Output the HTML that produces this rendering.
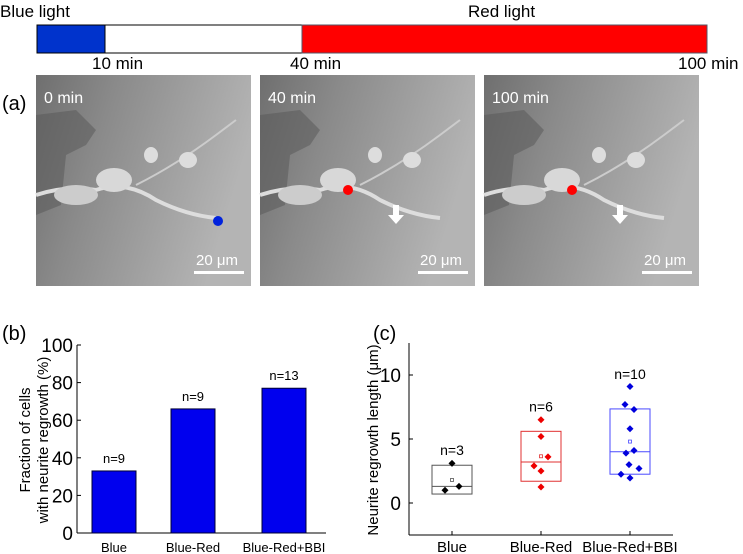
<!DOCTYPE html>
<html><head><meta charset="utf-8"><style>
html,body{margin:0;padding:0;background:#fff;}
svg{display:block;font-family:"Liberation Sans",sans-serif;}
</style></head><body>
<svg id="fig" width="743" height="554" viewBox="0 0 743 554">
<defs>
<linearGradient id="bg" x1="0" y1="0" x2="1" y2="0.3">
<stop offset="0" stop-color="#6f6f6f"/><stop offset="0.35" stop-color="#8a8a8a"/><stop offset="1" stop-color="#b4b4b4"/>
</linearGradient>
</defs>
<g>
<text x="0" y="17" font-size="17" font-family="Liberation Sans">Blue light</text>
<text x="468" y="17" font-size="17">Red light</text>
<rect x="37" y="25" width="68" height="28" fill="#0033cc" stroke="#000"/>
<rect x="105" y="25" width="197" height="28" fill="#fff" stroke="#000"/>
<rect x="302" y="25" width="405" height="28" fill="#ff0000" stroke="#556"/>
<text x="92" y="69" font-size="17">10 min</text>
<text x="290" y="69" font-size="17">40 min</text>
<text x="678" y="69" font-size="17">100 min</text>
</g>
<text x="2" y="110" font-size="20">(a)</text>
<g id="imgs"></g>
<text x="2" y="340" font-size="20">(b)</text>
<text x="373" y="340" font-size="20">(c)</text>
<g id="chartB"></g>
<g id="chartC"></g>
</svg>
<script>
const NS="http://www.w3.org/2000/svg";
function mk(p,t,a){const e=document.createElementNS(NS,t);for(const k in a)e.setAttribute(k,a[k]);p.appendChild(e);return e;}
// micrographs
const panels=[{x:36,lab:"0 min",dot:"#0022dd",arrow:false},{x:260,lab:"40 min",dot:"#ff0000",arrow:true},{x:484,lab:"100 min",dot:"#ff0000",arrow:true}];
const imgs=document.getElementById('imgs');
panels.forEach((p,i)=>{
 const g=mk(imgs,'g',{transform:`translate(${p.x},75)`});
 
 
 mk(g,'rect',{x:0,y:0,width:215,height:211,fill:'url(#bg)'});
 mk(g,'path',{d:'M0 40 L40 35 L60 55 L50 70 L30 80 L25 130 L0 140 Z',fill:'#555',opacity:0.5});
 mk(g,'path',{d:'M0 120 Q30 110 60 115 Q90 105 120 125 Q150 140 180 143',stroke:'#ddd','stroke-width':4,fill:'none'});
 mk(g,'ellipse',{cx:40,cy:120,rx:22,ry:10,fill:'#ccc'});
 mk(g,'ellipse',{cx:78,cy:105,rx:18,ry:12,fill:'#d8d8d8'});
 mk(g,'path',{d:'M100 110 Q140 90 180 60 L200 45',stroke:'#ccc','stroke-width':2,fill:'none'});
 mk(g,'ellipse',{cx:115,cy:80,rx:7,ry:8,fill:'#ddd'});
 mk(g,'ellipse',{cx:152,cy:85,rx:9,ry:8,fill:'#ddd'});
 const dx=i==0?182:88, dy=i==0?146:115;
 mk(g,'circle',{cx:dx,cy:dy,r:5,fill:p.dot});
 if(p.arrow){mk(g,'path',{d:'M133 130 h6 v10 h5 l-8 9 l-8 -9 h5z',fill:'#fff'});}
 const t=mk(g,'text',{x:8,y:28,'font-size':16,fill:'#fff'});t.textContent=p.lab;
 const s=mk(g,'text',{x:160,y:190,'font-size':15,fill:'#fff'});s.textContent='20 μm';
 mk(g,'rect',{x:158,y:196,width:50,height:3,fill:'#fff'});
});
// chart b data
const catsB=["Blue","Blue-Red","Blue-Red+BBI"];
const valsB=[33,66,77];
const nB=["n=9","n=9","n=13"];
const ticksB=[0,20,40,60,80,100];
(function(){
 const g=document.getElementById('chartB');
 const x0=77,x1=326,yB=533,yT=345;
 const y=v=>yB-(v/100)*(yB-yT);
 const cx=[114,193,284],bw=44;
 mk(g,'line',{x1:x0,y1:yT,x2:x0,y2:yB,stroke:'#000'});
 mk(g,'line',{x1:x0,y1:yB,x2:x1,y2:yB,stroke:'#000'});
 ticksB.forEach(t=>{mk(g,'line',{x1:x0,y1:y(t),x2:x0+4,y2:y(t),stroke:'#000'});
  const e=mk(g,'text',{x:x0-4,y:y(t)+7,'font-size':19,'text-anchor':'end'});e.textContent=t;
  });
 valsB.forEach((v,i)=>{
  const r=mk(g,'rect',{x:cx[i]-bw/2,y:y(v),width:bw,height:yB-y(v),fill:'#0000ee',stroke:'#000033'});
  
  const n=mk(g,'text',{x:cx[i],y:y(v)-8,'font-size':13,'text-anchor':'middle'});n.textContent=nB[i];
  const c=mk(g,'text',{x:cx[i],y:552,'font-size':13,'text-anchor':'middle'});c.textContent=catsB[i];
  
 });
 const a=mk(g,'text',{transform:'translate(30,440) rotate(-90)','font-size':15,'text-anchor':'middle'});a.textContent='Fraction of cells';
 
 const b=mk(g,'text',{transform:'translate(48,440) rotate(-90)','font-size':15,'text-anchor':'middle'});b.textContent='with neurite regrowth (%)';
})();
// chart c data
const catsC=["Blue","Blue-Red","Blue-Red+BBI"];
const nC=["n=3","n=6","n=10"];
const ptsBlue=[3.1,1.0,1.3];
const ptsRed=[6.5,5.2,2.9,3.6,2.5,1.25];
const ptsBBI=[9.1,7.7,7.3,5.8,3.9,4.1,3.0,2.7,2.25,1.95];
const boxLo=[0.7,1.7,2.25], boxHi=[2.95,5.6,7.35], boxMed=[1.3,3.2,4.0], boxMean=[1.8,3.65,4.8];
const ticksC=[0,5,10];
(function(){
 const g=document.getElementById('chartC');
 const x0=409,x1=673,yB=535,yT=343;
 const y=v=>503-v*12.8;
 const cx=[452,541,630],hw=20;
 const cols=['#000','#ee0000','#0000dd'],boxc=['#555','#e03030','#4a4aff'];
 const pts=[ptsBlue,ptsRed,ptsBBI];
 const offs=[[0,-7,7],[0,0,-7,7,0,0],[0,-5,4,0,-4,4,-1,9,-9,0]];
 mk(g,'line',{x1:x0,y1:yT,x2:x0,y2:yB,stroke:'#000'});
 mk(g,'line',{x1:x0,y1:yB,x2:x1,y2:yB,stroke:'#000'});
 ticksC.forEach(t=>{mk(g,'line',{x1:x0,y1:y(t),x2:x0+4,y2:y(t),stroke:'#000'});
  const e=mk(g,'text',{x:x0-8,y:y(t)+7,'font-size':19,'text-anchor':'end'});e.textContent=t;
  });
 cx.forEach((c,i)=>{
  mk(g,'line',{x1:c,y1:yB,x2:c,y2:yB-4,stroke:'#000'});
  const b=mk(g,'rect',{x:c-hw,y:y(boxHi[i]),width:2*hw,height:y(boxLo[i])-y(boxHi[i]),fill:'none',stroke:boxc[i]});
  
  mk(g,'line',{x1:c-hw,y1:y(boxMed[i]),x2:c+hw,y2:y(boxMed[i]),stroke:boxc[i]});
  mk(g,'rect',{x:c-1.5,y:y(boxMean[i])-1.5,width:3,height:3,fill:'none',stroke:boxc[i],'stroke-width':0.8});
  pts[i].forEach((v,j)=>{const p=mk(g,'path',{d:`M${c+offs[i][j]} ${y(v)-3.5} l3.5 3.5 l-3.5 3.5 l-3.5 -3.5z`,fill:cols[i]});
   });
  const n=mk(g,'text',{x:c,y:y(boxHi[i])-(i==2?30:10)-(i==1?10:0),'font-size':14,'text-anchor':'middle'});n.textContent=nC[i];
  const t=mk(g,'text',{x:c,y:552,'font-size':15,'text-anchor':'middle'});t.textContent=catsC[i];
  
 });
 const a=mk(g,'text',{transform:'translate(378,440) rotate(-90)','font-size':15,'text-anchor':'middle'});a.textContent='Neurite regrowth length (μm)';
 
})();
</script>
</body></html>
